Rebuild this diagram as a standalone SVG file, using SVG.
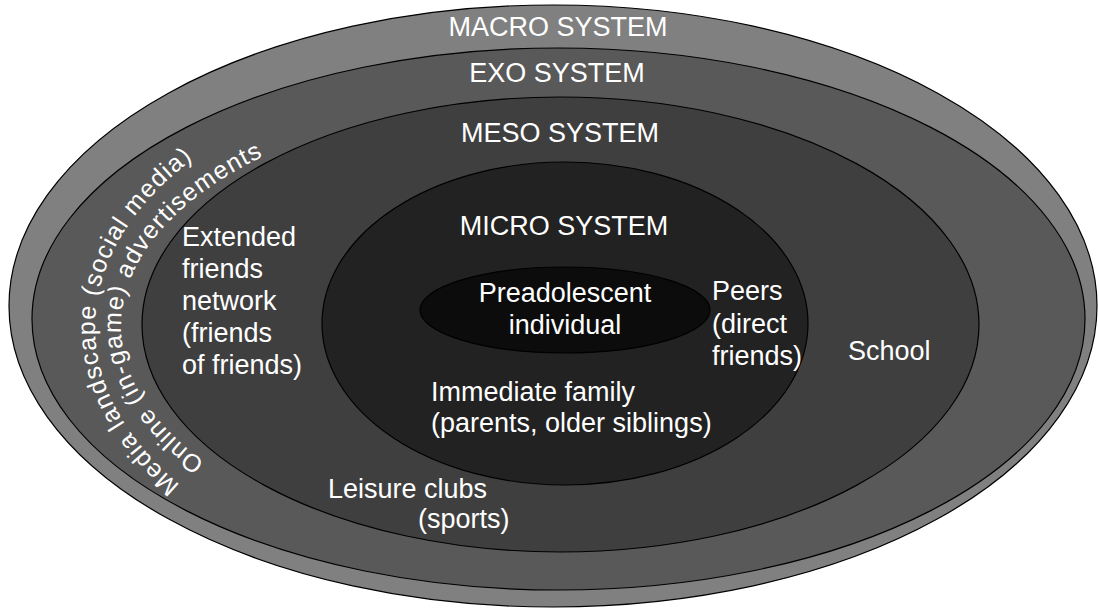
<svg xmlns="http://www.w3.org/2000/svg" width="1099" height="611" viewBox="0 0 1099 611">
  <defs>
    <style>
      .ring { stroke: #000; stroke-width: 1.2; }
      .lbl { font-family: "Liberation Sans", Arial, sans-serif; font-size: 27px; fill: #fff; }
      .arc { font-family: "Liberation Sans", Arial, sans-serif; font-size: 25px; letter-spacing: 1.2px; fill: #fff; }
      .mid { text-anchor: middle; }
    </style>
    <!-- baselines for the curved media labels: clockwise elliptic arcs up the left side -->
    <path id="arcOuter" d="M 180.1 484.8 A 463 273 0 0 1 326.5 90.6" fill="none"/>
    <path id="arcInner" d="M 205.0 462.0 A 437 230.2 0 0 1 339.5 126.9" fill="none"/>
  </defs>

  <rect width="1099" height="611" fill="#fff"/>

  <g id="macro">
    <ellipse class="ring" cx="553" cy="306" rx="544" ry="301" fill="#808080"/>
    <text class="lbl mid" x="558" y="36">MACRO SYSTEM</text>
  </g>

  <g id="exo">
    <ellipse class="ring" cx="558.5" cy="319" rx="526.5" ry="271" fill="#595959"/>
    <text class="lbl mid" x="557" y="82">EXO SYSTEM</text>
    <text class="arc"><textPath href="#arcOuter">Media landscape (social media)</textPath></text>
    <text class="arc"><textPath href="#arcInner">Online (in-game) advertisements</textPath></text>
  </g>

  <g id="meso">
    <ellipse class="ring" cx="560.5" cy="324.5" rx="418.5" ry="227.5" fill="#3f3f3f"/>
    <text class="lbl mid" x="560" y="142">MESO SYSTEM</text>
    <text class="lbl" x="182" y="246">Extended</text>
    <text class="lbl" x="182" y="278">friends</text>
    <text class="lbl" x="182" y="310">network</text>
    <text class="lbl" x="182" y="342">(friends</text>
    <text class="lbl" x="182" y="374">of friends)</text>
    <text class="lbl" x="848" y="360">School</text>
    <text class="lbl" x="328" y="498">Leisure clubs</text>
    <text class="lbl" x="418" y="528">(sports)</text>
  </g>

  <g id="micro">
    <ellipse class="ring" cx="565" cy="323.5" rx="243" ry="161.5" fill="#222"/>
    <text class="lbl mid" x="564" y="235">MICRO SYSTEM</text>
    <text class="lbl" x="712" y="300">Peers</text>
    <text class="lbl" x="712" y="333">(direct</text>
    <text class="lbl" x="712" y="365">friends)</text>
    <text class="lbl" x="431" y="401">Immediate family</text>
    <text class="lbl" x="431" y="432">(parents, older siblings)</text>
  </g>

  <g id="individual">
    <ellipse class="ring" cx="565" cy="310" rx="145" ry="43" fill="#0c0c0c"/>
    <text class="lbl mid" x="565" y="302">Preadolescent</text>
    <text class="lbl mid" x="565" y="334">individual</text>
  </g>

  <g id="connectors"/>
</svg>
